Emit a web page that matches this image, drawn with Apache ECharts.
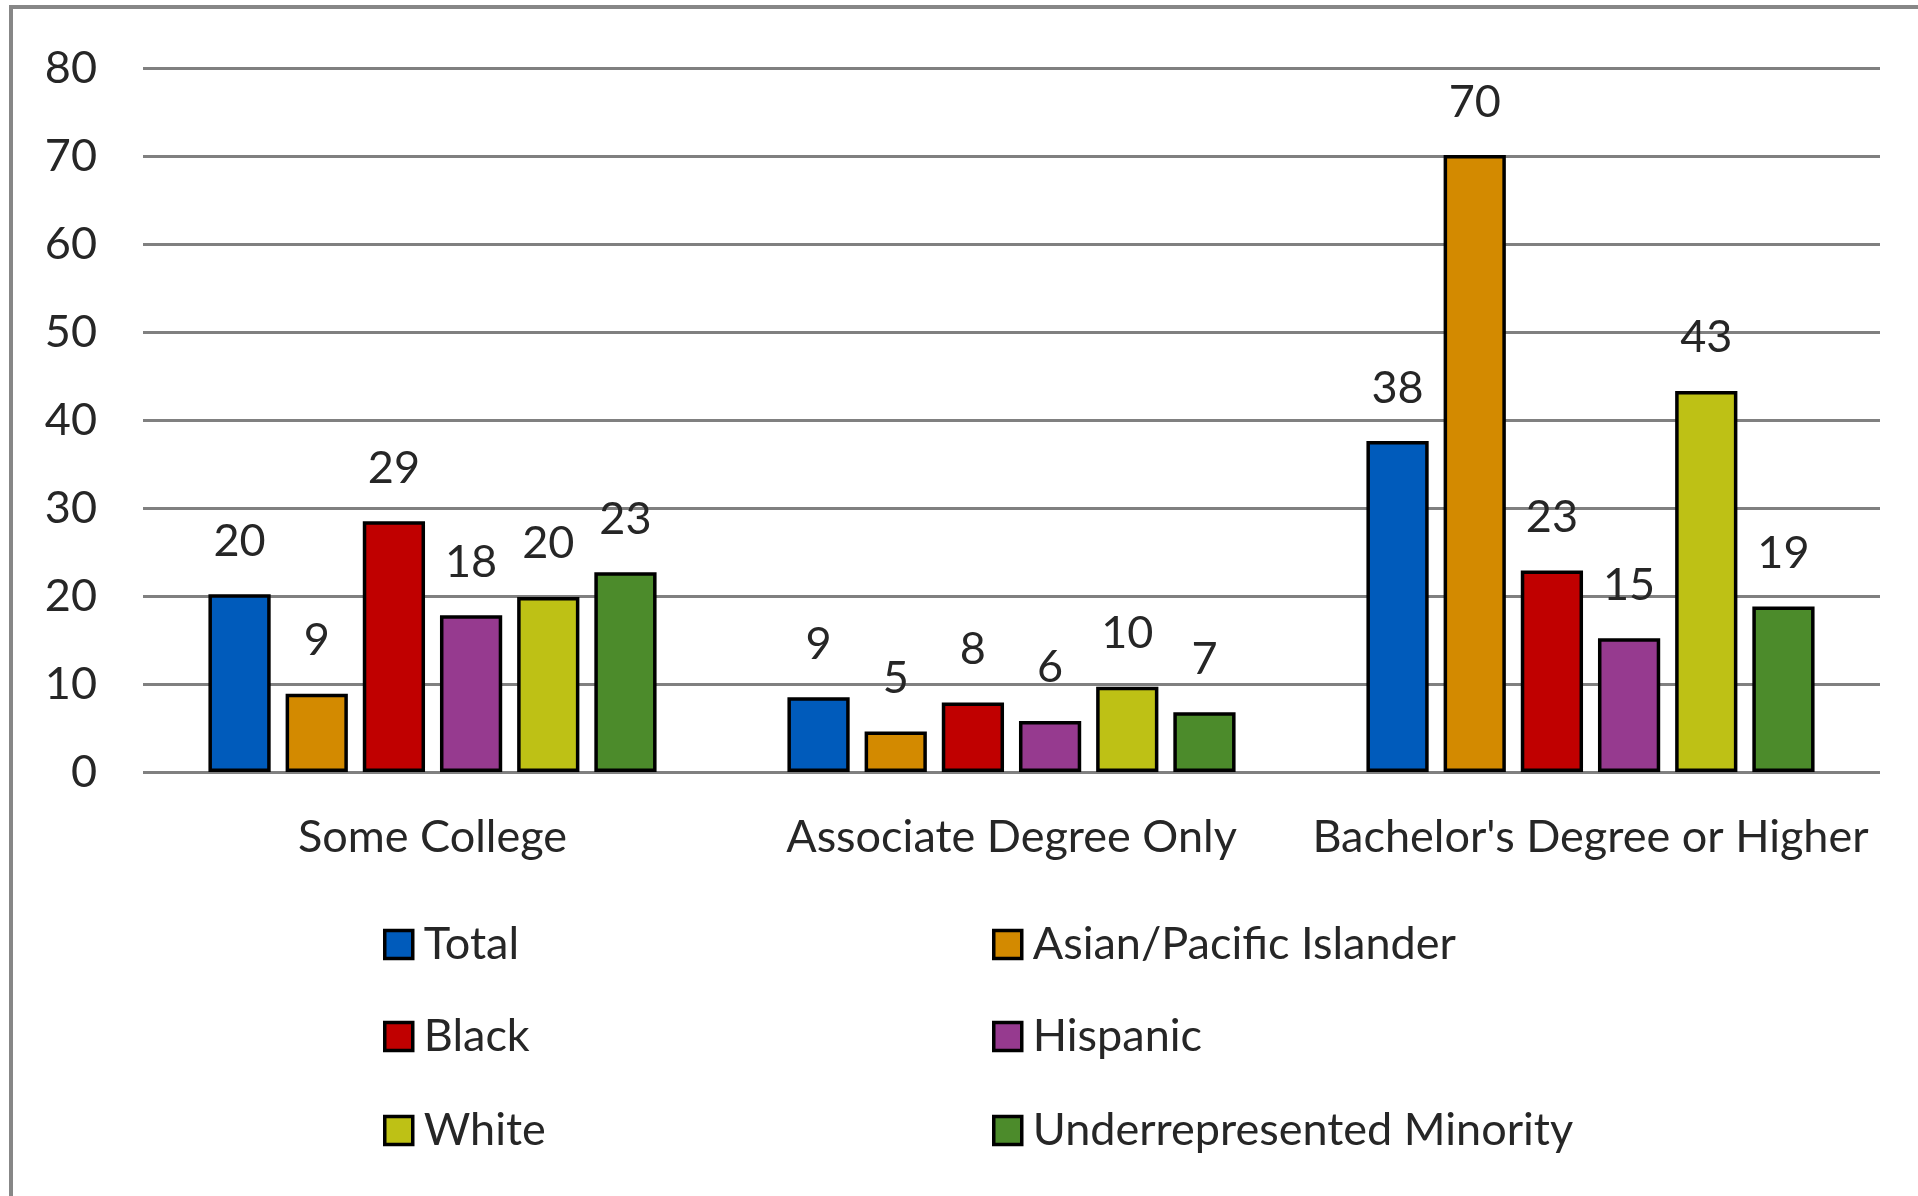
<!DOCTYPE html>
<html>
<head>
<meta charset="utf-8">
<script src="https://cdn.jsdelivr.net/npm/echarts@6/dist/echarts.min.js"></script>
<style>
html,body{margin:0;padding:0;background:#fff;}
#chart{width:1918px;height:1196px;}
</style>
</head>
<body>
<div id="chart"></div>
<script>
const categories = ["Some College", "Associate Degree Only", "Bachelor's Degree or Higher"];
const seriesNames = ["Total", "Asian/Pacific Islander", "Black", "Hispanic", "White", "Underrepresented Minority"];
const totalVals = [20.2, 8.5, 37.6];
const asianVals = [8.9, 4.6, 70.1];
const blackVals = [28.5, 7.9, 22.9];
const hispanicVals = [17.8, 5.8, 15.2];
const whiteVals = [19.9, 9.7, 43.3];
const urmVals = [22.7, 6.8, 18.8];
const yTicks = [0, 10, 20, 30, 40, 50, 60, 70, 80];

const seriesData = [totalVals, asianVals, blackVals, hispanicVals, whiteVals, urmVals];
const colors = ["#005BBB", "#D38A00", "#C00000", "#963A8F", "#BEC115", "#4C8B2B"];
const FONT = "Lato";
const TXT = "#262626";
const FS = 45;

const chart = echarts.init(document.getElementById('chart'));
const series = seriesNames.map((name, i) => ({
  name: name,
  type: 'bar',
  data: seriesData[i],
  barCategoryGap: '22.6%',
  barGap: '24%',
  itemStyle: { color: colors[i], borderColor: '#000', borderWidth: 3.5 },
  label: {
    show: true, position: 'top', distance: 28,
    fontFamily: FONT, fontSize: FS, color: TXT, lineHeight: 50,
    formatter: p => String(Math.round(p.value))
  }
}));

// legend layout: 2 columns x 3 rows
const legendCols = [383, 992];
const legendRows = [922, 1014, 1108];
const legends = seriesNames.map((name, i) => ({
  data: [name],
  left: legendCols[i % 2], top: legendRows[Math.floor(i / 2)],
  itemWidth: 28, itemHeight: 28, icon: 'rect', padding: 0,
  itemStyle: { borderColor: '#000', borderWidth: 3.5 },
  textStyle: { fontFamily: FONT, fontSize: FS, color: TXT, padding: [0, 0, 0, 6] }
}));

chart.setOption({
  animation: false,
  backgroundColor: '#fff',
  color: colors,
  graphic: [{
    type: 'rect', silent: true, z: 100,
    shape: { x: 11, y: 7, width: 3000, height: 3000 },
    style: { fill: 'none', stroke: '#878787', lineWidth: 4 }
  }],
  grid: { left: 143, right: 38, top: 68, bottom: 424, containLabel: false },
  xAxis: {
    type: 'category', data: categories,
    axisLine: { show: false }, axisTick: { show: false },
    axisLabel: { interval: 0, margin: 40, fontFamily: FONT, fontSize: FS, color: TXT, lineHeight: 50 }
  },
  yAxis: {
    type: 'value', min: yTicks[0], max: yTicks[yTicks.length - 1], interval: 10,
    axisLine: { show: false }, axisTick: { show: false },
    axisLabel: { margin: 46, fontFamily: FONT, fontSize: FS, color: TXT },
    splitLine: { show: true, lineStyle: { color: '#808080', width: 3 } }
  },
  legend: legends,
  series: series
});
</script>
</body>
</html>
